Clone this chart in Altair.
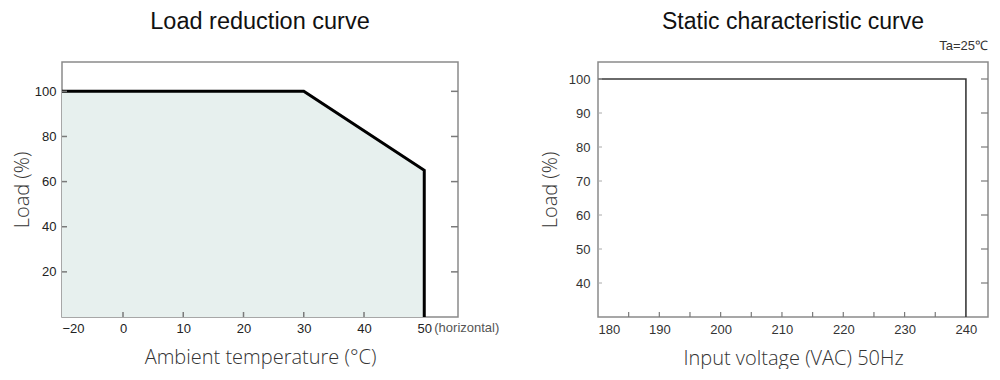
import altair as alt
import pandas as pd

# ---------------- data ----------------
# Load reduction curve
lr_temp = [-20, 30, 50, 50]
lr_load = [100, 100, 65, 0]
lr_area_temp = [-20, 30, 50]
lr_area_load = [100, 100, 65]
lr_x_ticks = [-20, 0, 10, 20, 30, 40, 50]
lr_x_inner = [0, 10, 20, 30, 40]
lr_y_ticks = [20, 40, 60, 80, 100]

# Static characteristic curve
sc_volt = [180, 240, 240]
sc_load = [100, 100, 30]
sc_x_labels = [180, 190, 200, 210, 220, 230, 240]
sc_x_inner = [185, 190, 195, 200, 205, 210, 215, 220, 225, 230, 235]
sc_y_ticks = [40, 50, 60, 70, 80, 90, 100]

W1, H1 = 396, 255
W2, H2 = 390, 255

LABEL_FONT = "Liberation Sans"
TITLE_FONT = "Open Sans"
TICK_COLOR = "#7a7a7a"

# ---------------- left chart ----------------
line_df = pd.DataFrame({"t": lr_temp, "load": lr_load, "o": list(range(len(lr_temp)))})
area_df = pd.DataFrame({"t": lr_area_temp, "load": lr_area_load})

xs1 = alt.Scale(domain=[-20, 0, 55.6], range=[0, 61, W1])
ys1 = alt.Scale(domain=[0, 113], nice=False, zero=False)

x_axis1 = alt.Axis(values=lr_x_ticks, ticks=False, domain=False, grid=False,
                   labelFont=LABEL_FONT, labelFontSize=13, labelColor="#222",
                   labelPadding=5, labelExpr="datum.value == -20 ? '\u221220' : datum.label",
                   title="Ambient temperature (\u00b0C)", titleFont=TITLE_FONT,
                   titleFontSize=20, titleFontWeight=300, titleColor="#333",
                   titlePadding=12)
y_axis1 = alt.Axis(values=lr_y_ticks, ticks=False, domain=False, grid=False,
                   labelFont=LABEL_FONT, labelFontSize=13, labelColor="#222",
                   labelPadding=6, title="Load (%)", titleFont=TITLE_FONT,
                   titleFontSize=20, titleFontWeight=300, titleColor="#333",
                   titlePadding=2)

area1 = alt.Chart(area_df).mark_area(color="#e7f0ee", opacity=1).encode(
    x=alt.X("t:Q", scale=xs1, axis=x_axis1),
    y=alt.Y("load:Q", scale=ys1, axis=y_axis1),
)
line1 = alt.Chart(line_df).mark_line(color="#000", strokeWidth=3, strokeJoin="miter").encode(
    x=alt.X("t:Q", scale=xs1),
    y=alt.Y("load:Q", scale=ys1),
    order="o:Q",
)
xt1 = alt.Chart(pd.DataFrame({"t": lr_x_inner})).mark_rule(color=TICK_COLOR, strokeWidth=1.5).encode(
    x=alt.X("t:Q", scale=xs1), y=alt.value(H1), y2=alt.value(H1 - 5))
yr1 = alt.Chart(pd.DataFrame({"v": lr_y_ticks})).mark_rule(color=TICK_COLOR, strokeWidth=1.5).encode(
    y=alt.Y("v:Q", scale=ys1), x=alt.value(W1 - 7), x2=alt.value(W1))
yl1 = alt.Chart(pd.DataFrame({"v": lr_y_ticks})).mark_rule(color=TICK_COLOR, strokeWidth=1.5).encode(
    y=alt.Y("v:Q", scale=ys1), x=alt.value(0), x2=alt.value(5))
hz = alt.Chart(pd.DataFrame({"t": [50], "s": ["(horizontal)"]})).mark_text(
    align="left", baseline="top", dx=10, font=LABEL_FONT, fontSize=13, color="#555"
).encode(x=alt.X("t:Q", scale=xs1), y=alt.value(H1 + 5), text="s:N")

left = alt.layer(area1, line1, xt1, yr1, yl1, hz).properties(
    width=W1, height=H1,
    title=alt.TitleParams("Load reduction curve", font=LABEL_FONT, fontSize=23.5,
                          fontWeight="normal", color="#111", frame="group", offset=29),
)

# ---------------- right chart ----------------
sc_df = pd.DataFrame({"v": sc_volt, "load": sc_load, "o": list(range(len(sc_volt)))})
xs2 = alt.Scale(domain=[180, 243.6], nice=False, zero=False)
ys2 = alt.Scale(domain=[30, 105], nice=False, zero=False)

x_axis2 = alt.Axis(values=sc_x_labels, ticks=False, domain=False, grid=False,
                   labelFont=LABEL_FONT, labelFontSize=13, labelColor="#333",
                   labelPadding=6, format="d",
                   title="Input voltage (VAC) 50Hz", titleFont=TITLE_FONT,
                   titleFontSize=20, titleFontWeight=300, titleColor="#333",
                   titlePadding=12)
y_axis2 = alt.Axis(values=sc_y_ticks, ticks=False, domain=False, grid=False,
                   labelFont=LABEL_FONT, labelFontSize=13, labelColor="#333",
                   labelPadding=8, title="Load (%)", titleFont=TITLE_FONT,
                   titleFontSize=20, titleFontWeight=300, titleColor="#333",
                   titlePadding=8)

line2 = alt.Chart(sc_df).mark_line(color="#3a3a3a", strokeWidth=1.6, strokeJoin="miter").encode(
    x=alt.X("v:Q", scale=xs2, axis=x_axis2),
    y=alt.Y("load:Q", scale=ys2, axis=y_axis2),
    order="o:Q",
)
xt2 = alt.Chart(pd.DataFrame({"v": sc_x_inner})).mark_rule(color=TICK_COLOR, strokeWidth=1.2).encode(
    x=alt.X("v:Q", scale=xs2), y=alt.value(H2), y2=alt.value(H2 - 5))
yr2 = alt.Chart(pd.DataFrame({"v": sc_y_ticks})).mark_rule(color=TICK_COLOR, strokeWidth=1.2).encode(
    y=alt.Y("v:Q", scale=ys2), x=alt.value(W2 - 7), x2=alt.value(W2))
yl2 = alt.Chart(pd.DataFrame({"v": sc_y_ticks})).mark_rule(color="#aaa", strokeWidth=1).encode(
    y=alt.Y("v:Q", scale=ys2), x=alt.value(0), x2=alt.value(4))
ta = alt.Chart(pd.DataFrame({"s": ["Ta=25\u2103"]})).mark_text(
    align="right", baseline="middle", font=LABEL_FONT, fontSize=13, color="#333"
).encode(x=alt.value(W2), y=alt.value(-16), text="s:N")

right = alt.layer(line2, xt2, yr2, yl2, ta).properties(
    width=W2, height=H2,
    title=alt.TitleParams("Static characteristic curve", font=LABEL_FONT, fontSize=23,
                          fontWeight="normal", color="#111", frame="group", offset=6),
)

chart = alt.hconcat(left, right, spacing=140, bounds="flush").configure_view(
    stroke="#8a8a8a", strokeWidth=1.5
).properties(padding={"left": 3, "top": 0, "right": 0, "bottom": 0})

chart.save("out.html", embed_options={"renderer": "svg", "actions": False})
